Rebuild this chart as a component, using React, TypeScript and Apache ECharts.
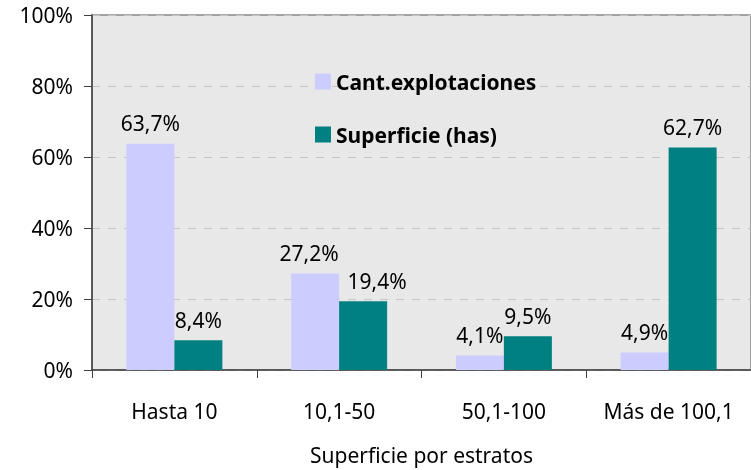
import React, { useEffect, useRef } from "react";
import * as echarts from "echarts";

const categories = ["Hasta 10", "10,1-50", "50,1-100", "Más de 100,1"];
const cantExplotaciones = [63.7, 27.2, 4.1, 4.9];
const superficie = [8.4, 19.4, 9.5, 62.7];
const yTicks = [0, 20, 40, 60, 80, 100];

const FONT = "'Noto Sans', sans-serif";
const FS = 21;
const fmt = (v: number) => v.toFixed(1).replace(".", ",") + "%";

export default function App() {
  const ref = useRef<HTMLDivElement>(null);
  useEffect(() => {
    if (!ref.current) return;
    const chart = echarts.init(ref.current, null, { renderer: "svg" });
    const labelBase = {
      show: true,
      position: "top",
      distance: 10,
      fontFamily: FONT,
      fontSize: FS,
      color: "#000",
      formatter: (p: any) => fmt(p.value),
    };
    chart.setOption({
      animation: false,
      textStyle: { fontFamily: FONT },
      grid: {
        left: 92,
        right: -7,
        top: 15,
        bottom: 98,
        show: true,
        backgroundColor: "#e8e8e8",
        borderColor: "#888888",
        borderWidth: 1.5,
      },
      legend: {
        orient: "vertical",
        left: 310,
        top: 66,
        itemWidth: 16,
        itemHeight: 16,
        itemGap: 32,
        icon: "rect",
        textStyle: { fontFamily: FONT, fontSize: 21, fontWeight: "bold", color: "#000" },
        data: ["Cant.explotaciones", "Superficie (has)"],
      },
      xAxis: {
        type: "category",
        data: categories,
        name: "Superficie por estratos",
        nameLocation: "middle",
        nameGap: 74,
        nameTextStyle: { fontFamily: FONT, fontSize: FS, color: "#000" },
        axisLine: { lineStyle: { color: "#404040", width: 1.5 } },
        axisTick: { show: true, interval: 0, length: 8, lineStyle: { color: "#404040" } },
        axisLabel: { interval: 0, hideOverlap: false, fontFamily: FONT, fontSize: FS, color: "#000", margin: 30 },
      },
      yAxis: {
        type: "value",
        min: yTicks[0],
        max: yTicks[yTicks.length - 1],
        interval: 20,
        axisLine: { show: true, lineStyle: { color: "#404040", width: 1.5 } },
        axisTick: { show: true, length: 8, lineStyle: { color: "#404040" } },
        axisLabel: {
          fontFamily: FONT,
          fontSize: FS,
          color: "#000",
          margin: 19,
          formatter: (v: number) => v + "%",
        },
        splitLine: { show: true, lineStyle: { color: "#c4c4c4", type: [8, 8] } },
      },
      series: [
        {
          name: "Cant.explotaciones",
          type: "bar",
          data: cantExplotaciones.map((v, i) =>
            i === 1 ? { value: v, label: { offset: [-6, 0] } } : v
          ),
          barWidth: 48,
          barGap: "0%",
          itemStyle: { color: "#ccccff" },
          label: labelBase,
        },
        {
          name: "Superficie (has)",
          type: "bar",
          data: superficie.map((v, i) =>
            i === 1 ? { value: v, label: { offset: [14, 0] } } : v
          ),
          barWidth: 48,
          barGap: "0%",
          itemStyle: { color: "#008080" },
          label: labelBase,
        },
      ],
    });
    return () => chart.dispose();
  }, []);
  return <div ref={ref} style={{ width: 751, height: 470, position: "fixed", left: 0, top: 0 }} />;
}
